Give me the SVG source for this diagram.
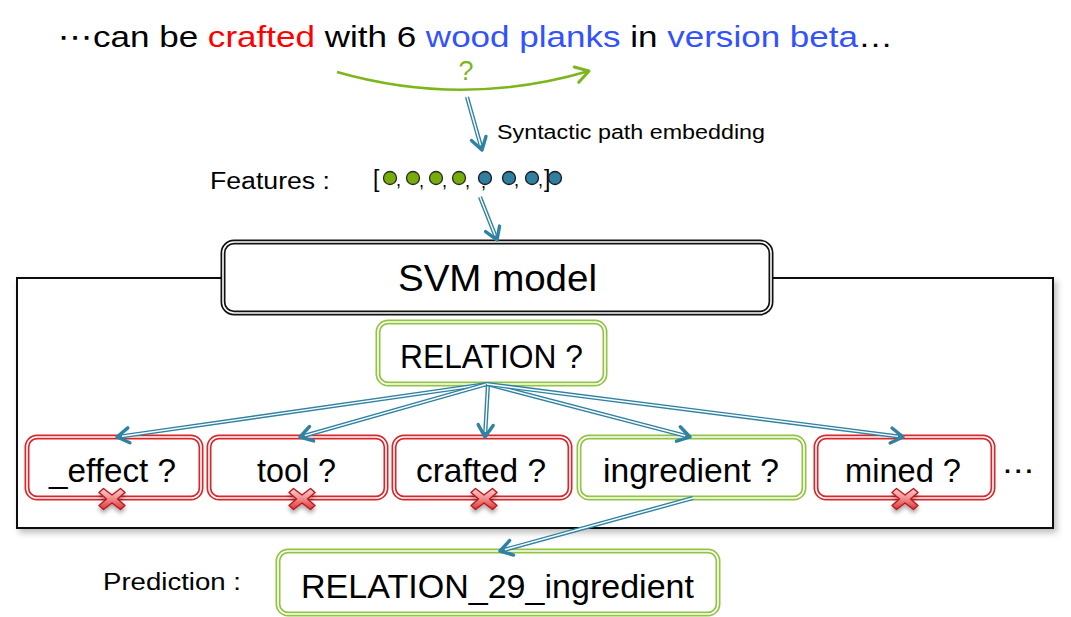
<svg xmlns="http://www.w3.org/2000/svg" xmlns:xlink="http://www.w3.org/1999/xlink" width="1071" height="617" viewBox="0 0 1071 617">
<style>
  text { font-family: "Liberation Sans", "DejaVu Sans", sans-serif; fill: #000; }
  .big { font-size: 33px; }
  .mid { font-size: 23px; }
  .conn { stroke: #2F82A3; stroke-width: 4.2; fill: none; }
  .gap { stroke: #fff; stroke-width: 1.4; fill: none; }
  .red1 { fill: #fff; stroke: #D9262B; stroke-width: 5; }
  .grn1 { fill: #fff; stroke: #92C441; stroke-width: 5; }
  .blk1 { fill: #fff; stroke: #111; stroke-width: 5; }
  .inner { fill: none; stroke: #fff; stroke-width: 1.6; }
  .gdot { fill: #77AD0A; stroke: #2a2a2a; stroke-width: 1.3; }
  .bdot { fill: #2E7FA0; stroke: #1a1a1a; stroke-width: 1.3; }
</style>
<defs>
  <marker id="chev" markerUnits="userSpaceOnUse" markerWidth="30" markerHeight="30" refX="15" refY="15" orient="auto" overflow="visible">
    <path d="M3,7.5 L15,15 L3,22.5" fill="none" stroke="#2F82A3" stroke-width="3.4" stroke-linecap="round" stroke-linejoin="round"/>
  </marker>
  <marker id="gchev" markerUnits="userSpaceOnUse" markerWidth="30" markerHeight="30" refX="15" refY="15" orient="auto" overflow="visible">
    <path d="M2,7 L15,15 L2,23" fill="none" stroke="#7DB61C" stroke-width="3" stroke-linecap="round" stroke-linejoin="round"/>
  </marker>
  <filter id="shadow" x="-5%" y="-5%" width="112%" height="115%">
    <feDropShadow dx="3" dy="4" stdDeviation="3" flood-color="#000" flood-opacity="0.25"/>
  </filter>
  <filter id="xshadow" x="-50%" y="-50%" width="200%" height="220%">
    <feDropShadow dx="0" dy="3" stdDeviation="2" flood-color="#000" flood-opacity="0.35"/>
  </filter>
  <linearGradient id="xg" x1="0" y1="0" x2="0" y2="1">
    <stop offset="0" stop-color="#FBD0D0"/>
    <stop offset="0.5" stop-color="#EF8A8A"/>
    <stop offset="1" stop-color="#D63A3A"/>
  </linearGradient>
  <g id="xmark" filter="url(#xshadow)">
    <path d="M-13,-6.5 L-8.5,-10.5 L0,-4 L8.5,-10.5 L13,-6.5 L5.5,0 L13,6.5 L8.5,10.5 L0,4 L-8.5,10.5 L-13,6.5 L-5.5,0 Z" fill="url(#xg)" stroke="#C0151C" stroke-width="1.4" stroke-linejoin="round"/>
  </g>
</defs>

<rect width="1071" height="617" fill="#fff"/>

<g id="sentence">
  <text x="58" y="47" font-size="30" textLength="835" lengthAdjust="spacingAndGlyphs">⋯can be <tspan fill="#FF0000">crafted</tspan> with 6 <tspan fill="#3352FF">wood planks</tspan> in <tspan fill="#3352FF">version beta</tspan>…</text>
</g>

<g id="question">
  <path d="M337,72 Q463,108 589,71" fill="none" stroke="#7DB61C" stroke-width="2.6" marker-end="url(#gchev)"/>
  <text x="466" y="80" font-size="27" style="fill:#7DB61C" text-anchor="middle">?</text>
</g>

<g id="embedding-label">
  <text x="497" y="139" font-size="20" textLength="268" lengthAdjust="spacingAndGlyphs">Syntactic path embedding</text>
</g>

<g id="features">
  <text x="210" y="189" class="mid" textLength="120" lengthAdjust="spacingAndGlyphs">Features :</text>
  <text x="373" y="187" font-size="23">[</text>
  <text x="544" y="187" font-size="23">]</text>
  <g font-size="18">
    <text x="396" y="186">,</text>
    <text x="419" y="187">,</text>
    <text x="442" y="187">,</text>
    <text x="465" y="187">,</text>
    <text x="481" y="188">,</text>
    <text x="514" y="186">,</text>
    <text x="538" y="186">,</text>
  </g>
  <circle class="gdot" cx="390" cy="178" r="6.5"/>
  <circle class="gdot" cx="413" cy="178" r="6.5"/>
  <circle class="gdot" cx="436" cy="178" r="6.5"/>
  <circle class="gdot" cx="459" cy="178" r="6.5"/>
  <circle class="bdot" cx="485" cy="178" r="6.5"/>
  <circle class="bdot" cx="509" cy="178" r="6.5"/>
  <circle class="bdot" cx="532" cy="178" r="6.5"/>
  <circle class="bdot" cx="555" cy="178" r="6.5"/>
</g>

<g id="model-frame">
  <rect x="17" y="278" width="1036" height="250" fill="#fff" stroke="#111" stroke-width="2" filter="url(#shadow)"/>
</g>

<g id="svm">
  <rect class="blk1" x="223" y="242" width="548" height="71" rx="11"/>
  <rect class="inner" x="223" y="242" width="548" height="71" rx="11"/>
  <text x="398" y="291" font-size="37" textLength="199" lengthAdjust="spacingAndGlyphs">SVM model</text>
</g>

<g id="relation">
  <rect class="grn1" x="378" y="322" width="227" height="62" rx="10"/>
  <rect class="inner" x="378" y="322" width="227" height="62" rx="10"/>
  <text x="400" y="368" class="big" textLength="183" lengthAdjust="spacingAndGlyphs">RELATION ?</text>
</g>

<g id="effect">
  <rect class="red1" x="27" y="437" width="174" height="61" rx="10"/>
  <rect class="inner" x="27" y="437" width="174" height="61" rx="10"/>
  <text x="49" y="482" class="big" textLength="127" lengthAdjust="spacingAndGlyphs">_effect ?</text>
  <use xlink:href="#xmark" href="#xmark" x="112" y="499"/>
</g>

<g id="tool">
  <rect class="red1" x="209" y="437" width="177" height="61" rx="10"/>
  <rect class="inner" x="209" y="437" width="177" height="61" rx="10"/>
  <text x="257" y="482" class="big" textLength="79" lengthAdjust="spacingAndGlyphs">tool ?</text>
  <use xlink:href="#xmark" href="#xmark" x="302" y="499"/>
</g>

<g id="crafted">
  <rect class="red1" x="394" y="437" width="176" height="61" rx="10"/>
  <rect class="inner" x="394" y="437" width="176" height="61" rx="10"/>
  <text x="416" y="482" class="big" textLength="130" lengthAdjust="spacingAndGlyphs">crafted ?</text>
  <use xlink:href="#xmark" href="#xmark" x="484" y="499"/>
</g>

<g id="ingredient">
  <rect class="grn1" x="579" y="437" width="225" height="61" rx="10"/>
  <rect class="inner" x="579" y="437" width="225" height="61" rx="10"/>
  <text x="603" y="482" class="big" textLength="176" lengthAdjust="spacingAndGlyphs">ingredient ?</text>
</g>

<g id="mined">
  <rect class="red1" x="816" y="437" width="177" height="61" rx="10"/>
  <rect class="inner" x="816" y="437" width="177" height="61" rx="10"/>
  <text x="845" y="482" class="big" textLength="116" lengthAdjust="spacingAndGlyphs">mined ?</text>
  <use xlink:href="#xmark" href="#xmark" x="905" y="499"/>
</g>

<g id="more">
  <text x="1002" y="480" font-size="28" textLength="33" lengthAdjust="spacingAndGlyphs">⋯</text>
</g>

<g id="prediction">
  <text x="103" y="590" class="mid" textLength="138" lengthAdjust="spacingAndGlyphs">Prediction :</text>
  <rect class="grn1" x="278" y="551" width="440" height="63" rx="10"/>
  <rect class="inner" x="278" y="551" width="440" height="63" rx="10"/>
  <text x="301" y="598" class="big" textLength="393" lengthAdjust="spacingAndGlyphs">RELATION_29_ingredient</text>
</g>

<g id="connectors">
  <line class="conn" x1="467" y1="97" x2="482" y2="150" marker-end="url(#chev)"/>
  <line class="gap" x1="467" y1="97" x2="480.6" y2="145.2"/>
  <line class="conn" x1="480" y1="197" x2="497" y2="240" marker-end="url(#chev)"/>
  <line class="gap" x1="480" y1="197" x2="495.2" y2="235.4"/>

  <line class="conn" x1="487" y1="384" x2="117" y2="437" marker-end="url(#chev)"/>
  <line class="gap" x1="487" y1="384" x2="122" y2="436.3"/>
  <line class="conn" x1="487" y1="384" x2="300" y2="437" marker-end="url(#chev)"/>
  <line class="gap" x1="487" y1="384" x2="304.8" y2="435.6"/>
  <line class="conn" x1="488" y1="384" x2="485" y2="437" marker-end="url(#chev)"/>
  <line class="gap" x1="488" y1="384" x2="485.3" y2="432"/>
  <line class="conn" x1="487" y1="384" x2="690" y2="437" marker-end="url(#chev)"/>
  <line class="gap" x1="487" y1="384" x2="685.2" y2="435.7"/>
  <line class="conn" x1="487" y1="384" x2="903" y2="437" marker-end="url(#chev)"/>
  <line class="gap" x1="487" y1="384" x2="898" y2="436.4"/>

  <line class="conn" x1="693" y1="498" x2="500" y2="551" marker-end="url(#chev)"/>
  <line class="gap" x1="693" y1="498" x2="504.8" y2="549.7"/>
</g>
</svg>
